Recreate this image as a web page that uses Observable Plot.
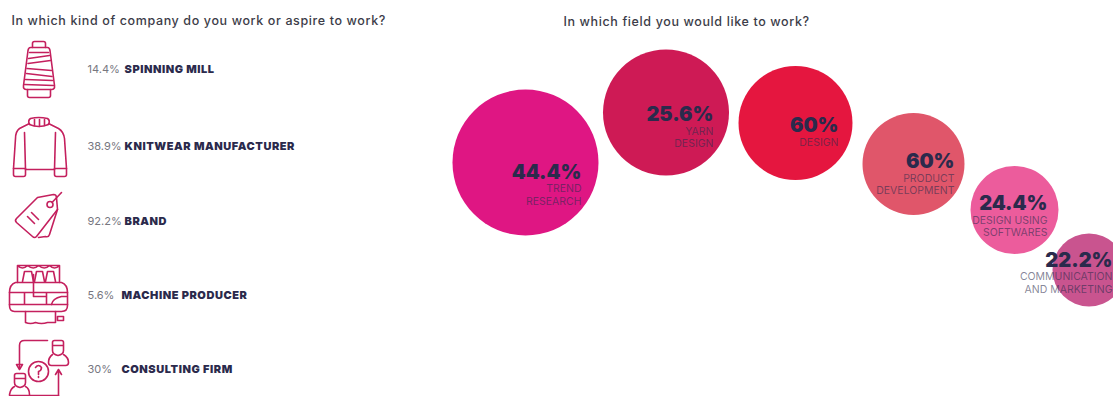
<!DOCTYPE html>
<html>
<head>
<meta charset="utf-8">
<script src="https://cdn.jsdelivr.net/npm/d3@7"></script>
<script src="https://cdn.jsdelivr.net/npm/@observablehq/plot@0.6"></script>
<style>
  html, body { margin: 0; padding: 0; background: #fff; }
  svg { display: block; }
  .question text { letter-spacing: 0.62px; }
  .company-name text { letter-spacing: 0.55px; }
</style>
</head>
<body>
<div id="chart"></div>
<script>
// Survey answers
const companyTitle = "In which kind of company do you work or aspire to work?";
const fieldTitle = "In which field you would like to work?";
const companyNames = ["SPINNING MILL", "KNITWEAR MANUFACTURER", "BRAND", "MACHINE PRODUCER", "CONSULTING FIRM"];
const companyShares = [14.4, 38.9, 92.2, 5.6, 30];
const fieldNames = ["TREND\nRESEARCH", "YARN\nDESIGN", "DESIGN", "PRODUCT\nDEVELOPMENT", "DESIGN USING\nSOFTWARES", "COMMUNICATION\nAND MARKETING"];
const fieldShares = [44.4, 25.6, 60, 60, 24.4, 22.2];

// Layout of the page, in page units
const rowY = [69, 146, 221, 295, 369];
const shareX = [87, 87, 87, 87, 87];
const nameX = [124, 124, 124, 121, 121];
const iconX = [40, 40, 40, 40, 40];
const iconY = [70, 145, 222, 295, 368];
const bubbleX = [525, 665.5, 795, 913, 1014, 1088.5];
const bubbleY = [162, 112, 122.5, 163.5, 209.5, 269.5];
const bubbleR = [73, 63, 57, 51, 44, 36.5];
const bubbleColors = ["#DF1683", "#CE1A55", "#E5163F", "#E0566A", "#EC5C9C", "#C9548F"];
const labelRight = [581, 713, 838, 954, 1047, 1112];
const shareY = [172, 114, 125, 161, 203, 260];
const nameY = [194, 136.5, 141, 183.5, 225.5, 282];

// Line icons, drawn on a 70 by 70 grid
const iconShapes = [
  // thread cone
  `<path d="M27 12 V8 Q27 6 29 6 H38 Q40 6 40 8 V12"/>
   <path d="M25 12 H42 Q44 12 44.5 15 L49 50 Q49.5 54 46 54 H21 Q17.5 54 18 50 L22.5 15 Q23 12 25 12 Z"/>
   <path d="M22 54 V60 Q22 62 24 62 H43 Q45 62 45 60 V54"/>
   <path d="M24 17 H43 M23 23 L44 20 M22.5 28 L45 25 M21.5 33 L46 35 M21 38 L46.5 41 M20 44 L47 45 M19 49 L48 50"/>`,
  // knitted sweater
  `<path d="M24 14 Q22 10 25 8 Q33 6 42 8 Q45 10 43 14 Q33 18 24 14 Z"/>
   <path d="M29 9 V15 M34 9 V16 M39 9 V15"/>
   <path d="M24 13 L14 18 Q10 21 10 28 L8 58 M43 13 L53 18 Q58 21 59 28 L61 58"/>
   <path d="M19 22 L20 59 H49 L50 22"/>
   <path d="M8 58 H20 V64 Q20 66 18 66 H10 Q8 66 8 64 Z M49 58 H61 V64 Q61 66 59 66 H51 Q49 66 49 64 Z"/>`,
  // pair of price tags
  `<path d="M32 10 L48 7 Q51 7 51 10 L52 22 L31 49 Q29 51 27 49 L11 35 Q9 33 11 31 Z"/>
   <path d="M52 22 L44 47 Q43 50 40 49 L33 50"/>
   <circle cx="44.5" cy="17" r="3"/>
   <path d="M46.5 15 L56 5"/>
   <path d="M22 29 L29 36 M26 25 L33 32"/>`,
  // knitting machine
  `<path d="M12 22 V5 H54 V22 M12 5 Q17 10 22 5 Q28 10 33 5 Q39 10 44 5 Q49 10 54 5"/>
   <path d="M17 21 L19 11 H26 L28 21 M29 21 L31 11 H37 L39 21 M40 21 L42 11 H48 L50 21"/>
   <path d="M10 22 H56 Q62 24 62 32 V45 Q62 51 56 51 H9 Q4 51 4 45 V32 Q4 24 10 22 Z"/>
   <path d="M4 32 H62 M4 44 H62 M19 32 V44 M41 32 V44 M28 14 V36 M28 36 H41"/>
   <path d="M46 44 Q47 38 56 36 H61"/>
   <path d="M20 51 V62 Q25 64 30 62 Q36 64 42 62 H50 V51 M52 56 H58 V60 H52 Z"/>`,
  // consultant and client
  `<path d="M42 7 H19 Q14 7 14 12 V34"/>
   <path d="M11 31 L14 36 L17 31 Z"/>
   <path d="M49 7 H56 Q58 7 58 9 V17 Q58 21 52.5 22 Q47 21 47 17 V9 Q47 7 49 7 Z M47 12 H58"/>
   <path d="M47 21 Q43 24 43 29 Q43 32 46 32 H60 Q63 32 63 29 Q63 24 58 21"/>
   <circle cx="33" cy="38" r="10"/>
   <path d="M30 34 Q33 30 36 34 Q36 37 33 38 V41 M33 43 V44"/>
   <path d="M53 62 V38 M50 41 L53 36 L56 41"/>
   <path d="M11 40 H18 Q20 40 20 42 V49 Q20 53 14.5 54 Q9 53 9 49 V42 Q9 40 11 40 Z M9 45 H20"/>
   <path d="M9 53 Q5 55 4 61 M20 53 Q24 55 24 61 M4 62 H53"/>`
];

const iconSource = (shape) =>
  "data:image/svg+xml;utf8," + encodeURIComponent(
    `<svg xmlns="http://www.w3.org/2000/svg" viewBox="0 0 70 70" width="70" height="70" fill="none" stroke="#C4205E" stroke-width="1.6" stroke-linecap="round" stroke-linejoin="round">${shape}</svg>`
  );

const ink = "#2B2A4C";
const sans = "Inter, Lato, 'Noto Sans', sans-serif";
const percent = (v) => `${v}%`;
const rows = d3.range(companyNames.length);
const bubbles = d3.range(fieldNames.length);
const titleStyle = { textAnchor: "start", fontSize: 12.5, fontWeight: 500, fill: "#3c3c48", className: "question" };

const chart = Plot.plot({
  width: 1113,
  height: 396,
  margin: 0,
  style: { background: "#fff", fontFamily: sans },
  x: { domain: [0, 1113], range: [0, 1113], axis: null },
  y: { domain: [0, 396], range: [0, 396], axis: null },
  r: { type: "linear", domain: [0, 100], range: [0, 100] },
  marks: [
    Plot.text([companyTitle], { x: 11, y: 20, text: (d) => d, ...titleStyle }),
    Plot.text([fieldTitle], { x: 563, y: 21, text: (d) => d, ...titleStyle }),

    Plot.image(rows, { x: (i) => iconX[i], y: (i) => iconY[i], width: 70, height: 70, src: (i) => iconSource(iconShapes[i]) }),
    Plot.text(rows, { x: (i) => shareX[i], y: (i) => rowY[i], text: (i) => percent(companyShares[i]), textAnchor: "start", fontSize: 11, fill: "#77777f" }),
    Plot.text(rows, { x: (i) => nameX[i], y: (i) => rowY[i], text: (i) => companyNames[i], textAnchor: "start", fontSize: 11, fontWeight: 900, fill: ink, className: "company-name" }),

    Plot.dot(bubbles, { x: (i) => bubbleX[i], y: (i) => bubbleY[i], r: (i) => bubbleR[i], fill: (i) => bubbleColors[i], stroke: null }),
    Plot.text(bubbles, { x: (i) => labelRight[i], y: (i) => shareY[i], text: (i) => percent(fieldShares[i]), textAnchor: "end", fontSize: 20, fontWeight: 900, fill: ink }),
    Plot.text(bubbles, { x: (i) => labelRight[i], y: (i) => nameY[i], text: (i) => fieldNames[i], textAnchor: "end", fontSize: 10.5, lineHeight: 1.2, fill: ink, fillOpacity: 0.58 })
  ]
});

document.getElementById("chart").append(chart);
</script>
</body>
</html>
